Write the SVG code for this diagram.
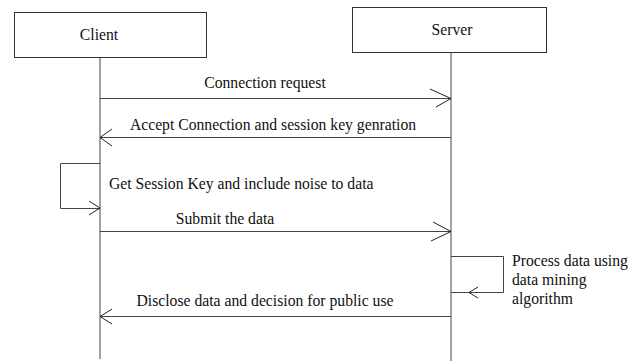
<svg xmlns="http://www.w3.org/2000/svg" width="641" height="361" viewBox="0 0 641 361">
<style>
.box{fill:#fff;stroke:#333;stroke-width:1}
.ln{fill:none;stroke:#444;stroke-width:1}
.ah{fill:none;stroke:#222;stroke-width:1}
text{font-family:"Liberation Serif","Times New Roman",serif;font-size:15.7px;fill:#111}
</style>
<rect width="641" height="361" fill="#fff"/>
<g id="client">
<rect class="box" x="14.5" y="12.5" width="192" height="45"/>
<text x="99" y="40" text-anchor="middle">Client</text>
<line class="ln" x1="100" y1="57.5" x2="100" y2="359"/>
</g>
<g id="server">
<rect class="box" x="352.5" y="7.5" width="194" height="45"/>
<text x="452" y="35" text-anchor="middle">Server</text>
<line class="ln" x1="451" y1="52.5" x2="451" y2="361"/>
</g>
<g id="connectors">
<line class="ln" x1="100" y1="98.5" x2="451" y2="98.5"/>
<path class="ah" d="M430,89 L451,98.5 L436,107"/>
<text x="265" y="88" text-anchor="middle">Connection request</text>

<line class="ln" x1="451" y1="137.5" x2="100" y2="137.5"/>
<path class="ah" d="M112,129 L100,137.5 L112,146"/>
<text x="273" y="130" text-anchor="middle">Accept Connection and session key genration</text>

<path class="ln" d="M100,163.5 H60.5 V208.5 H100"/>
<path class="ah" d="M89,201 L100,208 L89,215"/>
<text x="109" y="189">Get Session Key and include noise to data</text>

<line class="ln" x1="100" y1="231.5" x2="451" y2="231.5"/>
<path class="ah" d="M433,222 L451,231.5 L431,241"/>
<text x="225" y="224" text-anchor="middle">Submit the data</text>

<path class="ln" d="M451,256.5 H503.5 V292.5 H451"/>
<path class="ah" d="M478,287 L469,292.5 L478,298"/>
<text x="512" y="266">Process data using</text>
<text x="512" y="285">data mining</text>
<text x="512" y="304">algorithm</text>

<line class="ln" x1="451" y1="316.5" x2="100" y2="316.5"/>
<path class="ah" d="M112,309 L100,316.5 L112,324"/>
<text x="265" y="306" text-anchor="middle">Disclose data and decision for public use</text>
</g>
</svg>
